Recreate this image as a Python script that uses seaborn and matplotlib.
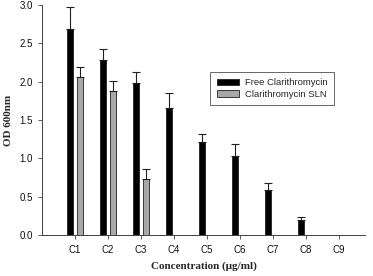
import matplotlib
matplotlib.use("Agg")
import matplotlib.pyplot as plt
import seaborn as sns
import pandas as pd
import numpy as np

categories = ["C1", "C2", "C3", "C4", "C5", "C6", "C7", "C8", "C9"]
free_vals = [2.69, 2.28, 1.98, 1.65, 1.21, 1.03, 0.59, 0.19, 0.0]
free_err = [0.28, 0.14, 0.15, 0.20, 0.11, 0.16, 0.09, 0.05, 0.0]
sln_vals = [2.06, 1.88, 0.73, np.nan, np.nan, np.nan, np.nan, np.nan, np.nan]
sln_err = [0.13, 0.13, 0.13, np.nan, np.nan, np.nan, np.nan, np.nan, np.nan]
series = ["Free Clarithromycin", "Clarithromycin SLN"]

rows = []
for i, c in enumerate(categories):
    rows.append({"cat": c, "series": series[0], "val": free_vals[i], "err": free_err[i]})
    rows.append({"cat": c, "series": series[1], "val": sln_vals[i], "err": sln_err[i]})
df = pd.DataFrame(rows)

sns.set_style("ticks")
plt.rcParams["font.family"] = ["Liberation Sans", "DejaVu Sans"]

fig = plt.figure(figsize=(3.73, 2.76), dpi=100)
ax = fig.add_axes([0.1126, 0.1486, 0.8660, 0.8334])

palette = {series[0]: "#000000", series[1]: "#a8a8a8"}
sns.barplot(data=df, x="cat", y="val", hue="series", order=categories,
            hue_order=series, palette=palette, width=0.6, gap=0.4,
            errorbar=None, edgecolor="#202020", linewidth=0.6, ax=ax,
            saturation=1)

# error bars (upward only) placed at the centers of drawn bars
for container, s in zip(ax.containers, series):
    sub = df[df["series"] == s].set_index("cat").loc[categories]
    for bar, v, e in zip(container, sub["val"], sub["err"]):
        if np.isnan(v) or v <= 0:
            continue
        xc = bar.get_x() + bar.get_width() / 2
        ax.errorbar([xc], [v], yerr=[[0], [e]], fmt="none", ecolor="#202020",
                    elinewidth=0.8, capsize=3, capthick=0.8)

ax.set_xlim(-1.0, 8.8)
ax.set_ylim(0, 3.0)
ax.set_yticks([0.0, 0.5, 1.0, 1.5, 2.0, 2.5, 3.0])
ax.set_yticklabels(["0.0", "0.5", "1.0", "1.5", "2.0", "2.5", "3.0"])
ax.tick_params(axis="both", labelsize=7, length=3, width=0.6, color="#404040",
               labelcolor="#111111")
ax.tick_params(axis="x", pad=4)
for sp in ["top", "right"]:
    ax.spines[sp].set_visible(False)
for sp in ["left", "bottom"]:
    ax.spines[sp].set_linewidth(0.7)
    ax.spines[sp].set_color("#404040")

ax.set_xlabel("Concentration (μg/ml)", fontsize=8, fontweight="bold",
              family=["Liberation Serif", "DejaVu Serif"], labelpad=5)
ax.set_ylabel("OD 600nm", fontsize=8, fontweight="bold",
              family=["Liberation Serif", "DejaVu Serif"], labelpad=5)

leg = ax.legend(loc="upper left", bbox_to_anchor=(0.52, 0.71), fontsize=6.8,
                frameon=True, fancybox=False, edgecolor="#404040",
                handlelength=2.4, handleheight=0.7, borderpad=0.7,
                labelspacing=0.25, handletextpad=0.6, borderaxespad=0)
leg.get_frame().set_linewidth(0.7)

fig.savefig("out.png", dpi=100)
